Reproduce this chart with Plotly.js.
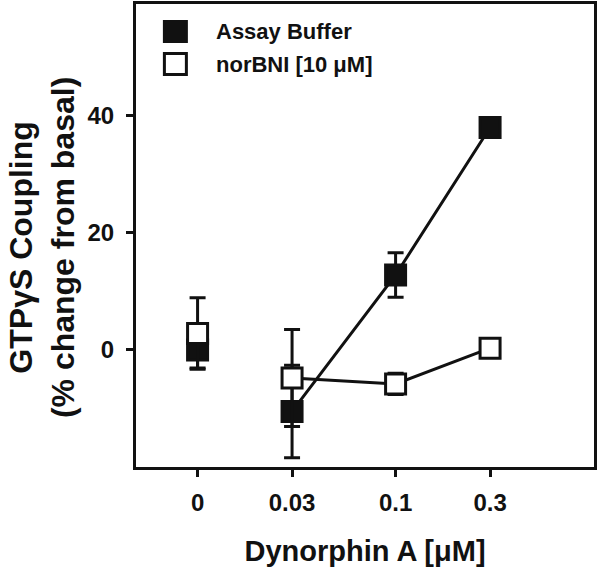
<!DOCTYPE html>
<html>
<head>
    <script src="https://cdn.plot.ly/plotly-3.0.1.min.js"></script>
    <style>
        body { margin: 0; background: #ffffff; }
        #gtpPlot { width: 600px; height: 573px; }
    </style>
</head>
<body>
    <div id="gtpPlot"></div>
    <script>
        // dose labels and where they sit on the log axis (0 is drawn at 0.01)
        const doseLabels = ['0', '0.03', '0.1', '0.3'];
        const dosePos = [0.01, 0.03, 0.1, 0.3];

        // GTPgS coupling, % change from basal (mean and error)
        const assayBuffer = [0, -10.5, 12.8, 38.0];
        const assayBufferErr = [3.1, 7.9, 3.8, 0];
        const norBNI = [2.8, -4.8, -5.8, 0.3];
        const norBNIErr = [6.1, 8.3, 1.8, 0];

        const yTicks = [0, 20, 40];

        const boldFont = {family: 'Liberation Sans, Arial, sans-serif', color: '#111111', weight: 'bold'};

        // the control (0) point is not joined to the dose curve
        function curve(vals) {
            return {
                x: dosePos.slice(1),
                y: vals.slice(1),
                mode: 'lines',
                line: {color: '#111111', width: 3},
                hoverinfo: 'skip',
                showlegend: false
            };
        }

        function points(vals, errs, fill, name) {
            return {
                x: dosePos,
                y: vals,
                name: name,
                mode: 'markers',
                marker: {symbol: 'square', size: 20, color: fill, line: {color: '#111111', width: 3}},
                error_y: {type: 'data', array: errs, visible: true, color: '#111111', thickness: 3, width: 8},
                showlegend: false
            };
        }

        const data = [
            curve(assayBuffer),
            curve(norBNI),
            points(assayBuffer, assayBufferErr, '#111111', 'Assay Buffer'),
            points(norBNI, norBNIErr, '#ffffff', 'norBNI [10 \u03bcM]')
        ];

        const layout = {
            width: 600,
            height: 573,
            margin: {l: 136, r: 6, t: 4, b: 106},
            paper_bgcolor: '#ffffff',
            plot_bgcolor: '#ffffff',
            showlegend: false,
            xaxis: {
                type: 'log',
                range: [-2.311, 0.002],
                tickvals: dosePos,
                ticktext: doseLabels,
                ticks: 'outside',
                ticklen: 7,
                tickwidth: 3,
                tickcolor: '#111111',
                tickfont: Object.assign({size: 24}, boldFont),
                ticklabelstandoff: 5,
                showline: true,
                linewidth: 3,
                linecolor: '#111111',
                mirror: true,
                showgrid: false,
                zeroline: false,
                title: {text: 'Dynorphin A [\u03bcM]', font: Object.assign({size: 29}, boldFont), standoff: 26}
            },
            yaxis: {
                range: [-20, 59.1],
                tickvals: yTicks,
                ticks: 'outside',
                ticklen: 7,
                tickwidth: 3,
                tickcolor: '#111111',
                tickfont: Object.assign({size: 24}, boldFont),
                ticklabelstandoff: 7,
                showline: true,
                linewidth: 3,
                linecolor: '#111111',
                mirror: true,
                showgrid: false,
                zeroline: false
            },
            // hand-drawn legend, upper left inside the frame
            shapes: [
                {type: 'rect', xref: 'paper', yref: 'paper', x0: 0.062, x1: 0.110, y0: 0.919, y1: 0.962,
                 fillcolor: '#111111', line: {color: '#111111', width: 3}},
                {type: 'rect', xref: 'paper', yref: 'paper', x0: 0.062, x1: 0.110, y0: 0.848, y1: 0.893,
                 fillcolor: '#ffffff', line: {color: '#111111', width: 3}}
            ],
            annotations: [
                {xref: 'paper', yref: 'paper', x: 0.170, y: 0.941, xanchor: 'left', yanchor: 'middle',
                 text: 'Assay Buffer', showarrow: false, font: Object.assign({size: 22}, boldFont)},
                {xref: 'paper', yref: 'paper', x: 0.170, y: 0.870, xanchor: 'left', yanchor: 'middle',
                 text: 'norBNI [10 \u03bcM]', showarrow: false, font: Object.assign({size: 22}, boldFont)},
                // y axis title, two centred lines
                {xref: 'paper', yref: 'paper', x: -0.205, y: 0.473, xanchor: 'center', yanchor: 'middle',
                 textangle: -90, align: 'center', showarrow: false,
                 text: 'GTP\u03b3S Coupling<br>(% change from basal)', font: Object.assign({size: 32}, boldFont)}
            ]
        };

        Plotly.newPlot('gtpPlot', data, layout, {displayModeBar: false, staticPlot: true});
    </script>
</body>
</html>
